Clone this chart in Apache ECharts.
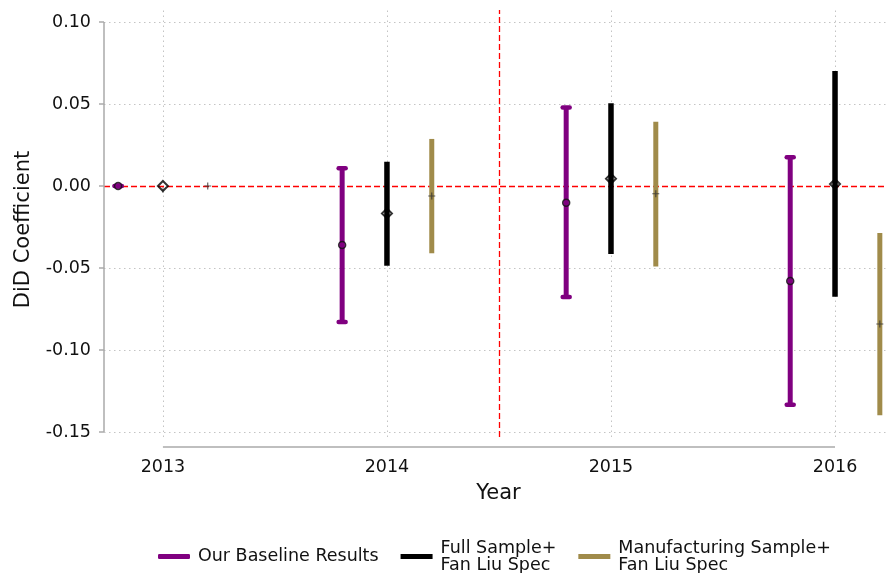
<!DOCTYPE html>
<html>
<head>
<meta charset="utf-8">
<script src="https://cdn.jsdelivr.net/npm/echarts@6/dist/echarts.min.js"></script>
<style>
html, body { margin: 0; padding: 0; background: #fff; }
#chart { width: 889px; height: 573px; }
</style>
</head>
<body>
<div id="chart"></div>
<script>
// event-study coefficients
var years = [2013, 2014, 2015, 2016];
var yTicks = [-0.15, -0.10, -0.05, 0.00, 0.05, 0.10];
var names = ['Our Baseline Results', 'Full Sample+\nFan Liu Spec', 'Manufacturing Sample+\nFan Liu Spec'];
var offsets = [-0.2, 0, 0.2];

var baseCoef = [0, -0.036, -0.0102, -0.0579];
var baseLo = [0, -0.0829, -0.0677, -0.1333];
var baseHi = [0, 0.0108, 0.0478, 0.0175];

var fullCoef = [0, -0.0167, 0.0045, 0.0012];
var fullLo = [0, -0.0486, -0.0415, -0.0675];
var fullHi = [0, 0.0148, 0.0504, 0.0701];

var mfgCoef = [0, -0.0061, -0.0047, -0.0841];
var mfgLo = [0, -0.041, -0.049, -0.1398];
var mfgHi = [0, 0.0287, 0.0392, -0.0287];

var treatLine = 2014.5;

var xMin = 2012.737, xMax = 2016.232;
var yMin = -0.153, yMax = 0.1073;

var colors = ['#800080', '#000000', '#a08b4a'];
var font = 'DejaVu Sans';

function ciData(lo, hi, off) {
    return years.map(function (y, i) { return [y + off, lo[i], hi[i]]; });
}
function ptData(coef, off) {
    return years.map(function (y, i) { return [y + off, coef[i]]; });
}

function barRender(width, cap) {
    return function (params, api) {
        var x = api.value(0);
        var bot = api.coord([x, api.value(1)]);
        var top = api.coord([x, api.value(2)]);
        var col = api.visual('color');
        var kids = [{
            type: 'line',
            shape: { x1: top[0], y1: top[1], x2: bot[0], y2: bot[1] },
            style: { stroke: col, lineWidth: width }
        }];
        if (cap) {
            [top, bot].forEach(function (p) {
                kids.push({
                    type: 'line',
                    shape: { x1: p[0] - 3.5, y1: p[1], x2: p[0] + 3.5, y2: p[1] },
                    style: { stroke: col, lineWidth: 4.5, lineCap: 'round' }
                });
            });
        }
        return { type: 'group', children: kids };
    };
}

var gridStyle = { color: '#c4c4c4', width: 1, type: [1.5, 3.5] };
var redStyle = { color: '#ff0000', width: 1.3, type: [6, 3] };

var refLines = [];
years.forEach(function (y) { refLines.push({ xAxis: y, lineStyle: gridStyle }); });
yTicks.forEach(function (v) { if (v !== 0) refLines.push({ yAxis: v, lineStyle: gridStyle }); });
refLines.push({ yAxis: 0, lineStyle: redStyle });
refLines.push({ xAxis: treatLine, lineStyle: redStyle });

var chart = echarts.init(document.getElementById('chart'));
var option = {
    animation: false,
    textStyle: { fontFamily: font },
    grid: { left: 104, right: 2, top: 10, bottom: 136, outerBoundsMode: 'none' },
    legend: {
        left: 153,
        top: 534,
        itemWidth: 32,
        itemHeight: 5,
        itemGap: 22,
        textStyle: { fontFamily: font, fontSize: 17.5, lineHeight: 17, color: '#111', padding: [0, 0, 0, 3] },
        data: [
            { name: names[0], icon: 'roundRect' },
            { name: names[1], icon: 'rect' },
            { name: names[2], icon: 'rect' }
        ]
    },
    xAxis: {
        type: 'value',
        min: xMin,
        max: xMax,
        offset: 10,
        axisLine: { show: false },
        axisTick: { show: true, customValues: years, length: 7, lineStyle: { color: '#aaa', width: 1.5 } },
        axisLabel: {
            customValues: years, margin: 11, fontSize: 17.5, color: '#111', fontFamily: font,
            formatter: function (v) { return String(v); }
        },
        splitLine: { show: false },
        name: 'Year',
        nameLocation: 'middle',
        nameGap: 36,
        nameTextStyle: { fontSize: 21, color: '#111', fontFamily: font, padding: [0, 0, 0, 6] }
    },
    yAxis: {
        type: 'value',
        min: yMin,
        max: yMax,
        axisLine: { show: false },
        axisTick: { show: true, customValues: yTicks, length: 5, lineStyle: { color: '#aaa', width: 1.5 } },
        axisLabel: {
            customValues: yTicks, margin: 13, fontSize: 17.5, color: '#111', fontFamily: font,
            formatter: function (v) { return v.toFixed(2); }
        },
        splitLine: { show: false },
        name: 'DiD Coefficient',
        nameLocation: 'middle',
        nameGap: 70,
        nameTextStyle: { fontSize: 21, color: '#111', fontFamily: font, padding: [0, 12, 0, 0] }
    },
    series: [
        {
            name: 'ref', type: 'line', data: [[years[0], 0]], showSymbol: false, z: 1,
            lineStyle: { width: 0 },
            markLine: { z: 1, silent: true, symbol: ['none', 'none'], label: { show: false }, data: refLines }
        },
        { name: names[0], type: 'custom', z: 3, itemStyle: { color: colors[0] }, renderItem: barRender(5, true), data: ciData(baseLo, baseHi, offsets[0]) },
        { name: names[1], type: 'custom', z: 3, itemStyle: { color: colors[1] }, renderItem: barRender(5.5, false), data: ciData(fullLo, fullHi, offsets[1]) },
        { name: names[2], type: 'custom', z: 3, itemStyle: { color: colors[2] }, renderItem: barRender(5, false), data: ciData(mfgLo, mfgHi, offsets[2]) },
        {
            name: names[0], type: 'scatter', z: 4, symbol: 'circle', symbolSize: 7,
            itemStyle: { color: colors[0], borderColor: '#111', borderWidth: 1.5 },
            data: ptData(baseCoef, offsets[0])
        },
        {
            name: names[1], type: 'scatter', z: 4, symbol: 'diamond', symbolSize: [10, 10],
            itemStyle: { color: 'rgba(0,0,0,0)', borderColor: '#000', borderWidth: 2 },
            data: ptData(fullCoef, offsets[1])
        },
        {
            name: names[2], type: 'scatter', z: 4,
            symbol: 'path://M2.5,0H3.5V2.5H6V3.5H3.5V6H2.5V3.5H0V2.5H2.5Z', symbolSize: 7,
            itemStyle: { color: '#333' },
            data: ptData(mfgCoef, offsets[2])
        }
    ]
};
chart.setOption(option);

// Stata-style axis lines that only span the tick range
var a = chart.convertToPixel({ gridIndex: 0 }, [years[0], yTicks[0]]);
var b = chart.convertToPixel({ gridIndex: 0 }, [years[years.length - 1], yTicks[yTicks.length - 1]]);
var g0 = chart.convertToPixel({ gridIndex: 0 }, [xMin, yMin]);
chart.setOption({
    graphic: [
        { type: 'line', z: 10, shape: { x1: a[0], y1: g0[1] + 10, x2: b[0], y2: g0[1] + 10 }, style: { stroke: '#aaa', lineWidth: 1.5 } },
        { type: 'line', z: 10, shape: { x1: g0[0], y1: a[1], x2: g0[0], y2: b[1] }, style: { stroke: '#aaa', lineWidth: 1.5 } }
    ]
});
</script>
</body>
</html>
